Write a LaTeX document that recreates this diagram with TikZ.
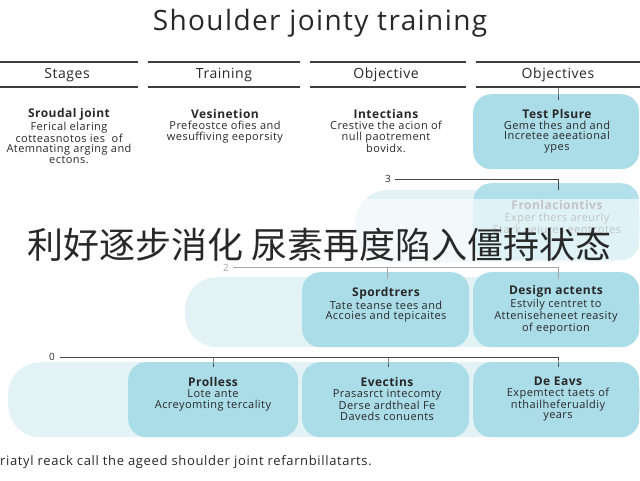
\documentclass[tikz,border=0pt]{standalone}
\usepackage{fontspec}
\setmainfont{Open Sans}
\newfontfamily\cjk{Noto Sans CJK SC}
\newfontfamily\spaced[LetterSpace=4]{Open Sans}
\newfontfamily\spacedwide[LetterSpace=5]{Open Sans}
\definecolor{boxblue}{RGB}{171,221,232}
\definecolor{bandblue}{RGB}{227,242,245}
\definecolor{ink}{RGB}{40,40,40}
\newcommand{\ttl}[1]{{\fontsize{12}{12}\selectfont\bfseries #1}\\[0.6pt]}
\begin{document}
\begin{tikzpicture}[x=1pt,y=-1pt,
  txt/.style={text=ink, align=center, font=\spaced\fontsize{11}{10.6}\selectfont, inner sep=0pt},
  hdr/.style={text=ink, font=\spaced\fontsize{14}{14}\selectfont, inner sep=0pt},
  bluebox/.style={fill=boxblue, rounded corners=18pt, inner sep=0pt, anchor=north west},
  paleband/.style={fill=bandblue, rounded corners=32pt, inner sep=0pt, anchor=north west},
  hline/.style={draw=ink!90, line width=1.1pt},
  conn/.style={draw=ink!85, line width=1pt},
  lvl/.style={text=ink, font=\fontsize{10}{10}\selectfont, inner sep=0pt},
]
\useasboundingbox (0,0) rectangle (640,480);
% title
\node[text=ink, font=\spacedwide\fontsize{28}{28}\selectfont, inner sep=0pt] (title) at (320,23) {Shoulder jointy training};
% header lines
\foreach \a/\b in {0/138,148/300,310/466,476/640}{
  \draw[hline] (\a,62) -- (\b,62);
  \draw[hline] (\a,87) -- (\b,87);
}
\coordinate (hd) at (558,87);
\node[hdr] (h1) at (67,75) {Stages};
\node[hdr] (h2) at (224,75) {Training};
\node[hdr] (h3) at (386,75) {Objective};
\node[hdr] (h4) at (558,75) {Objectives};
% row 1
\node[txt] (r1a) at (69,136) {\ttl{Sroudal joint}Ferical elaring\\cotteasnotos ies\ \ of\\Atemnating arging and\\ectons.};
\node[txt] (r1b) at (225,126) {\ttl{Vesinetion}Prefeostce ofies and\\wesuffiving eeporsity};
\node[txt] (r1c) at (386,131) {\ttl{Intectians}Crestive the acion of\\null paotrement\\bovidx.};
\node[bluebox, minimum width=166pt, minimum height=75pt] (r1d) at (473,94) {};
\node[txt] (r1dt) at (557,131) {\ttl{Test Plsure}Geme thes and and\\Incretee aeeational\\ypes};
\draw[conn] (hd) -- (r1d.north -| hd) -- ++(0,6);
% level 3
\node[lvl] (l3) at (388,179) {3};
\coordinate (c3) at (558,179);
\node[paleband, minimum width=285pt, minimum height=72pt] (band2) at (355,190) {};
\node[bluebox, minimum width=166pt, minimum height=77pt, fill opacity=0.9] (r2d) at (473,183) {};
\node[txt, text=ink!70] (r2dt) at (557,217) {\ttl{Fronlaciontivs}Exper thers areurly\\Stark aeiures eentcotes};
\draw[conn] (l3.east) ++(4,0) -- (c3) -- ++(0,11);
% overlay band
\fill[white, fill opacity=0.6] (0,199) rectangle (640,268);
% level 2
\node[lvl, text=ink!45] (l2) at (226,268) {2};
\coordinate (c2a) at (387,267);
\coordinate (c2b) at (558,267);
\node[paleband, minimum width=455pt, minimum height=70pt] (band3) at (185,277) {};
\node[bluebox, minimum width=167pt, minimum height=75pt] (r3c) at (302,272) {};
\node[bluebox, minimum width=166pt, minimum height=75pt] (r3d) at (473,272) {};
\node[txt] (r3ct) at (386,305) {\ttl{Spordtrers}Tate teanse tees and\\Accoies and tepicaites};
\node[txt] (r3dt) at (556,310) {\ttl{Design actents}Estvily centret to\\Atteniseheneet reasity\\of eeportion};
\draw[draw=ink!40, line width=1pt] (l2.east) ++(4,-1) -- (c2b) -- ++(0,12);
\draw[draw=ink!40, line width=1pt] (c2a) -- ++(0,12);
% level 0
\node[lvl] (l0) at (52,357) {0};
\coordinate (c0a) at (213,357);
\coordinate (c0b) at (388,357);
\coordinate (c0c) at (558,357);
\node[paleband, minimum width=632pt, minimum height=75pt] (band4) at (8,362) {};
\node[bluebox, minimum width=170pt, minimum height=75pt] (r4b) at (128,362) {};
\node[bluebox, minimum width=167pt, minimum height=75pt] (r4c) at (302,362) {};
\node[bluebox, minimum width=166pt, minimum height=75pt] (r4d) at (473,362) {};
\node[txt] (r4bt) at (213,394) {\ttl{Prolless}Lote ante\\Acreyomting tercality};
\node[txt] (r4ct) at (387,399) {\ttl{Evectins}Prasasrct intecomty\\Derse ardtheal Fe\\Daveds conuents};
\node[txt] (r4dt) at (558,399) {\ttl{De Eavs}Expemtect taets of\\nthailheferualdiy\\years};
\draw[conn] (l0.east) ++(5,0) -- (c0c) -- (r4d.north -| c0c) -- ++(0,5);
\draw[conn] (c0a) -- (r4b.north -| c0a) -- ++(0,5);
\draw[conn] (c0b) -- (r4c.north -| c0b) -- ++(0,5);
% footer
\node[text=ink, inner sep=0pt, anchor=west, font=\spacedwide\fontsize{13}{13}\selectfont] (foot) at (0,462) {riatyl reack call the ageed shoulder joint refarnbillatarts.};
% chinese overlay text
\node[text=ink, font=\cjk\fontsize{36}{36}\selectfont, inner sep=0pt] (cn) at (320,245) {利好逐步消化 尿素再度陷入僵持状态};
\end{tikzpicture}
\end{document}
